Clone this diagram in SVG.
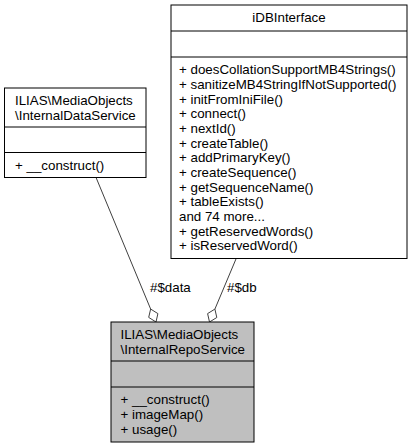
<svg xmlns="http://www.w3.org/2000/svg" width="413" height="448" viewBox="0 0 413 448">
<style>
text{font-family:"Liberation Sans",Arial,Helvetica,sans-serif;font-size:13.33px;fill:#000}
.box{fill:#fff;stroke:#000;stroke-width:1}
.cur{fill:#bfbfbf;stroke:#000;stroke-width:1}
.sep{stroke:#000;stroke-width:1}
.edge{fill:none;stroke:#404040;stroke-width:1}
.dia{fill:#fff;stroke:#404040;stroke-width:1}
.mid{text-anchor:middle}
</style>
<rect width="413" height="448" fill="#fff"/>
<g id="connectors">
<path class="edge" d="M96.05,177.5 L150.65,309.06"/>
<polygon class="dia" points="156,322 157.9,313.6 150.65,309.06 148.7,317.4"/>
<text x="150" y="292">#$data</text>
<path class="edge" d="M236.1,258.7 L214.9,309.1"/>
<polygon class="dia" points="209.5,322 216.8,317.5 214.9,309.1 207.6,313.6"/>
<text x="227" y="292">#$db</text>
</g>
<g id="node_iDBInterface">
<rect class="box" x="171" y="5" width="236" height="253.5"/>
<line class="sep" x1="171" y1="31" x2="407" y2="31"/>
<line class="sep" x1="171" y1="57" x2="407" y2="57"/>
<text class="mid" x="289" y="22.3">iDBInterface</text>
<text x="179" y="74.3">+ doesCollationSupportMB4Strings()</text>
<text x="179" y="89">+ sanitizeMB4StringIfNotSupported()</text>
<text x="179" y="103.6">+ initFromIniFile()</text>
<text x="179" y="118.3">+ connect()</text>
<text x="179" y="133">+ nextId()</text>
<text x="179" y="147.6">+ createTable()</text>
<text x="179" y="162.3">+ addPrimaryKey()</text>
<text x="179" y="177">+ createSequence()</text>
<text x="179" y="191.6">+ getSequenceName()</text>
<text x="179" y="206.3">+ tableExists()</text>
<text x="179" y="221">and 74 more...</text>
<text x="179" y="235.6">+ getReservedWords()</text>
<text x="179" y="250.3">+ isReservedWord()</text>
</g>
<g id="node_InternalDataService">
<rect class="box" x="4.5" y="88" width="141.5" height="89.5"/>
<line class="sep" x1="4.5" y1="127" x2="146" y2="127"/>
<line class="sep" x1="4.5" y1="152.5" x2="146" y2="152.5"/>
<text x="15" y="105.3">ILIAS\MediaObjects</text>
<text x="15" y="120">\InternalDataService</text>
<text x="15" y="169.8">+ __construct()</text>
</g>
<g id="node_InternalRepoService">
<rect class="cur" x="111" y="322" width="143" height="120"/>
<line class="sep" x1="111" y1="361" x2="254" y2="361"/>
<line class="sep" x1="111" y1="387" x2="254" y2="387"/>
<text x="120.5" y="339.3">ILIAS\MediaObjects</text>
<text x="120.5" y="354">\InternalRepoService</text>
<text x="120.5" y="404.3">+ __construct()</text>
<text x="120.5" y="419">+ imageMap()</text>
<text x="120.5" y="433.7">+ usage()</text>
</g>
</svg>
